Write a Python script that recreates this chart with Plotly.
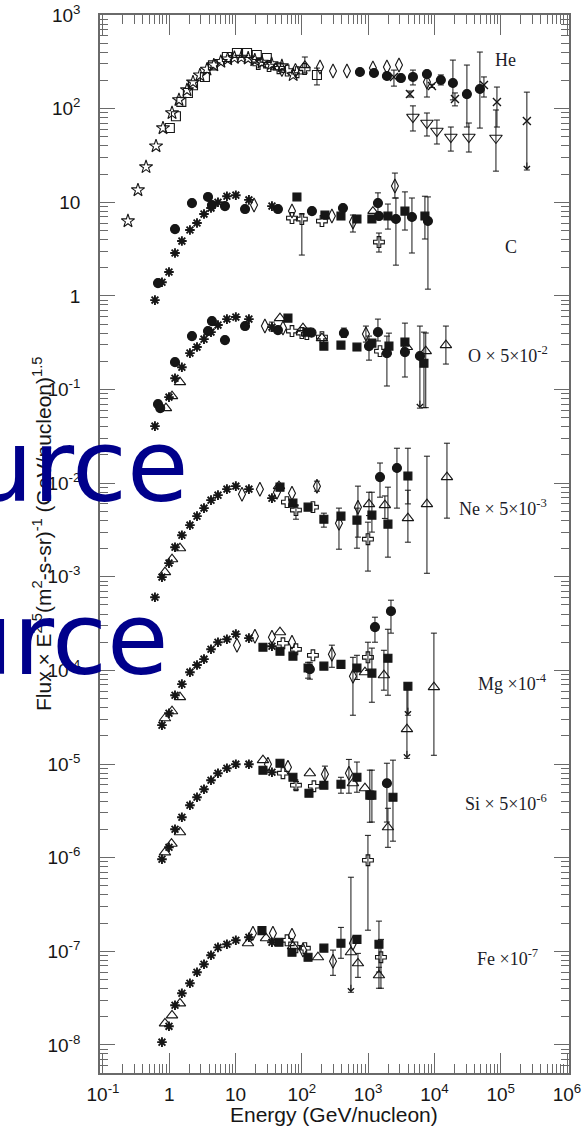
import math
import plotly.graph_objects as go

# ---------------- Helium ----------------
HE_STAR_E = [0.238, 0.337, 0.446, 0.631, 0.804, 1.10, 1.40, 1.85, 2.28, 2.9, 3.7, 4.7, 6.0, 7.6, 9.6, 12.2, 15.5, 19.5, 25, 35, 50, 74]
HE_STAR_F = [6.3, 13.5, 23.8, 39.8, 62, 90, 124, 158, 192, 228, 262, 292, 318, 338, 350, 352, 345, 330, 312, 300, 285, 229]
HE_SQ_E = [1.02, 1.26, 1.52, 1.91, 2.28, 3.45, 4.56, 7.4, 10.5, 14.9, 20.9, 29.6, 169]
HE_SQ_F = [62, 83, 118, 147, 178, 218, 290, 356, 393, 393, 374, 347, 229]
HE_SQ_ERR = {12: (271, 179)}
HE_CROSS_E = [22, 32, 45, 60, 85, 110]
HE_CROSS_F = [300, 285, 270, 255, 245, 265]
HE_TRI_E = [40, 111]
HE_TRI_F = [275, 290]
HE_TRI_ERR = {1: (356, 240)}
HE_DIAM_E = [50, 80, 188, 295, 479, 1180, 1920, 2920, 7710]
HE_DIAM_F = [262, 255, 278, 252, 252, 271, 278, 292, 192]
HE_DIAM_ERR = {8: (240, 133)}
HE_CIRC_E = [752, 1225, 1920, 3125, 4740, 7710, 12500, 19000, 30900, 48500]
HE_CIRC_F = [246, 240, 223, 212, 218, 234, 202, 188, 143, 162]
HE_CIRC_ERR = {4: (258, 179), 6: (229, 179), 7: (330, 124), 8: (292, 63.6), 9: (402, 62)}
HE_X_E = [2450, 4270, 9170, 20400, 55800, 87700, 248000]
HE_X_F = [218, 143, 174, 127, 179, 118, 73.8]
HE_X_ERR = {0: (258, 174), 1: (154, 133), 2: (182, 168), 3: (147, 107), 4: (218, 133), 5: (170, 63.6), 6: (150, 22.1)}
HE_X_LIMITS = [6]
HE_DTRI_E = [4740, 7710, 10900, 17700, 33100, 84700]
HE_DTRI_F = [81.3, 70.2, 57.7, 49.8, 49.8, 48.6]
HE_DTRI_ERR = {0: (107, 57.7), 1: (89.8, 51.0), 2: (75.5, 41.9), 3: (63.6, 35.2), 4: (70.2, 34.4), 5: (96.7, 21.5)}

# ---------------- Carbon ----------------
C_AST_E = [0.608, 0.776, 0.99, 1.22, 1.55, 2.05, 2.62, 3.34, 4.26, 5.43, 7.41, 10.1, 15.9, 35.4]
C_AST_F = [0.902, 1.40, 1.80, 2.87, 3.85, 5.05, 6.00, 7.48, 8.67, 10.0, 11.6, 11.9, 10.6, 9.10]
C_CIRC_E = [0.676, 1.22, 2.20, 3.84, 4.40, 6.92, 13.9, 43.6, 142, 417, 1406, 1456, 2625, 4580, 7980]
C_CIRC_F = [1.37, 5.17, 9.8, 11.4, 9.33, 9.10, 8.46, 8.46, 8.05, 8.67, 9.8, 7.12, 6.62, 6.95, 6.30]
C_CIRC_ERR = {10: (12.6, 7.3), 12: (11.1, 2.13), 13: (11.1, 2.87), 14: (11.4, 1.18)}
C_DIAM_E = [19.0, 71, 284, 590, 2535]
C_DIAM_F = [9.33, 8.05, 7.12, 6.14, 14.9]
C_DIAM_ERR = {3: (7.30, 4.81), 4: (20.5, 11.1)}
C_SQ_E = [84.3, 223, 389, 678, 1140, 1990, 3590, 7190]
C_SQ_F = [11.4, 7.30, 7.12, 6.62, 6.62, 7.12, 8.05, 7.12]
C_SQ_ERR = {5: (9.57, 5.17), 6: (12.9, 5.05), 7: (11.6, 4.05)}
C_CROSS_E = [71, 100, 201, 1456]
C_CROSS_F = [6.78, 6.62, 6.30, 3.76]
C_CROSS_ERR = {1: (7.5, 2.73), 3: (4.69, 2.94)}
C_TRI_E = [1180]
C_TRI_F = [8.05]

# ---------------- Oxygen (x 5e-2) ----------------
O_AST_E = [0.608, 0.99, 1.22, 1.55, 2.05, 2.62, 3.34, 4.26, 5.43, 7.41, 10.1, 15.9, 35.4]
O_AST_F = [0.0406, 0.0829, 0.132, 0.173, 0.245, 0.284, 0.345, 0.410, 0.488, 0.565, 0.594, 0.565, 0.464]
O_AST_ERR = {12: (0.525, 0.421)}
O_CIRC_E = [0.676, 0.73, 1.22, 2.20, 3.84, 4.40, 6.92, 13.9, 43.6, 140, 431, 1030, 1406, 1920, 3590, 6040]
O_CIRC_F = [0.0698, 0.0633, 0.196, 0.372, 0.421, 0.538, 0.337, 0.476, 0.431, 0.405, 0.401, 0.291, 0.410, 0.245, 0.251, 0.228]
O_CIRC_ERR = {10: (0.453, 0.36), 11: (0.372, 0.206), 12: (0.565, 0.33), 13: (0.372, 0.109), 15: (0.476, 0.0633)}
O_CIRC_LIMITS = [15]
O_TRI_E = [0.891, 1.10, 1.45, 46.8, 104, 201, 3850, 7400, 14900]
O_TRI_F = [0.0633, 0.0849, 0.120, 0.579, 0.453, 0.354, 0.284, 0.257, 0.298]
O_TRI_ERR = {7: (0.401, 0.064), 8: (0.476, 0.187)}
O_DIAM_E = [27.7, 51.9, 926]
O_DIAM_F = [0.476, 0.453, 0.391]
O_DIAM_ERR = {2: (0.476, 0.321)}
O_SQ_E = [61.7, 119, 215, 389, 678, 1140, 2060, 3590, 6950]
O_SQ_F = [0.579, 0.410, 0.291, 0.298, 0.284, 0.313, 0.291, 0.321, 0.191]
O_SQ_ERR = {6: (0.40, 0.24), 7: (0.512, 0.136), 8: (0.410, 0.064)}
O_CROSS_E = [71, 100, 119, 201, 1510]
O_CROSS_F = [0.421, 0.401, 0.391, 0.363, 0.257]

# ---------------- Neon (x 5e-3) ----------------
NE_AST_E = [0.608, 0.776, 0.99, 1.22, 1.55, 2.05, 2.62, 3.34, 4.26, 5.43, 7.41, 10.1, 15.9, 35.4]
NE_AST_F = [0.000605, 0.000991, 0.00140, 0.00207, 0.00278, 0.00356, 0.00444, 0.00541, 0.00658, 0.00744, 0.00863, 0.00929, 0.00863, 0.00691]
NE_TRI_E = [0.861, 1.10, 1.45, 45.2, 1030, 1790, 3980, 7710, 15450]
NE_TRI_F = [0.00112, 0.00154, 0.00202, 0.00929, 0.00597, 0.00582, 0.00423, 0.00597, 0.0116]
NE_TRI_ERR = {4: (0.0080, 0.0045), 5: (0.0073, 0.0042), 6: (0.0084, 0.00234), 7: (0.0194, 0.00109), 8: (0.0267, 0.00423)}
NE_DIAM_E = [12.5, 23.3, 42.1, 71, 169, 363, 702]
NE_DIAM_F = [0.00763, 0.00863, 0.00801, 0.00782, 0.00929, 0.00374, 0.00554]
NE_DIAM_ERR = {4: (0.0105, 0.0082), 5: (0.00541, 0.00197), 6: (0.00929, 0.00265)}
NE_SQ_E = [46.8, 73.4, 124, 215, 389, 678, 1140, 1990, 3980]
NE_SQ_F = [0.00906, 0.00611, 0.00554, 0.00412, 0.00444, 0.00403, 0.00455, 0.00365, 0.0119]
NE_SQ_ERR = {3: (0.00478, 0.00339), 5: (0.00541, 0.00202), 6: (0.0080, 0.0030), 7: (0.00906, 0.00162), 8: (0.0236, 0.0060)}
NE_CIRC_E = [1510, 2720]
NE_CIRC_F = [0.0116, 0.0145]
NE_CIRC_ERR = {0: (0.0164, 0.00708), 1: (0.0236, 0.00541)}
NE_CROSS_E = [59.6, 81.5, 147, 993]
NE_CROSS_F = [0.00627, 0.00515, 0.00554, 0.00252]
NE_CROSS_ERR = {1: (0.00582, 0.00412), 3: (0.00383, 0.00115)}

# ---------------- Magnesium (x 1e-4) ----------------
MG_AST_E = [0.776, 0.99, 1.22, 1.55, 2.05, 2.62, 3.34, 4.26, 5.43, 7.41, 10.1, 15.9, 35.4]
MG_AST_F = [2.60e-5, 3.49e-5, 5.43e-5, 7.13e-5, 9.57e-5, 1.14e-4, 1.32e-4, 1.68e-4, 2.00e-4, 2.15e-4, 2.44e-4, 2.21e-4, 1.81e-4]
MG_TRI_E = [0.861, 1.10, 1.45, 46.8, 895, 1730, 3850, 9820]
MG_TRI_F = [3.08e-5, 3.66e-5, 5.18e-5, 2.56e-4, 9.57e-5, 8.89e-5, 2.36e-5, 6.62e-5]
MG_TRI_ERR = {5: (1.64e-4, 6.15e-5), 6: (6.62e-5, 1.15e-5), 7: (2.50e-4, 1.24e-5)}
MG_TRI_LIMITS = [6]
MG_DIAM_E = [10.5, 19.6, 35.4, 71, 284, 590]
MG_DIAM_F = [1.86e-4, 2.32e-4, 2.26e-4, 2.00e-4, 1.49e-4, 8.68e-5]
MG_DIAM_ERR = {4: (1.86e-4, 1.08e-4), 5: (1.38e-4, 3.32e-5)}
MG_SQ_E = [25.9, 46.8, 73.4, 124, 215, 389, 678, 1140, 1990, 3980]
MG_SQ_F = [1.77e-4, 1.60e-4, 1.42e-4, 1.06e-4, 1.11e-4, 1.16e-4, 1.06e-4, 9.34e-5, 1.35e-4, 6.78e-5]
MG_SQ_ERR = {3: (1.22e-4, 8.26e-5), 6: (1.45e-4, 8.0e-5), 7: (1.73e-4, 4.57e-5), 8: (2.75e-4, 5.43e-5), 9: (7.3e-5, 3.32e-5)}
MG_SQ_LIMITS = [9]
MG_CROSS_E = [51.9, 81.5, 147, 993]
MG_CROSS_F = [1.95e-4, 1.68e-4, 1.45e-4, 1.38e-4]
MG_CROSS_ERR = {3: (2.0e-4, 1.0e-4)}
MG_CIRC_E = [132, 1267, 2210]
MG_CIRC_F = [1.03e-4, 2.90e-4, 4.29e-4]
MG_CIRC_ERR = {0: (1.22e-4, 8.06e-5), 1: (3.70e-4, 2.00e-4), 2: (5.62e-4, 2.50e-4)}

# ---------------- Silicon (x 5e-6) ----------------
SI_AST_E = [0.776, 0.99, 1.22, 1.55, 2.05, 2.62, 3.34, 4.26, 5.43, 7.41, 10.1, 15.9, 35.4]
SI_AST_F = [9.62e-7, 1.29e-6, 2.01e-6, 2.70e-6, 3.63e-6, 4.42e-6, 5.38e-6, 6.71e-6, 7.98e-6, 9.02e-6, 9.96e-6, 9.96e-6, 8.17e-6]
SI_TRI_E = [0.861, 1.08, 1.45, 25.9, 132, 590, 895, 1990]
SI_TRI_F = [1.14e-6, 1.41e-6, 1.87e-6, 1.10e-5, 7.98e-6, 6.24e-6, 5.52e-6, 2.11e-6]
SI_TRI_ERR = {7: (3.37e-6, 1.29e-6)}
SI_DIAM_E = [30.8, 61.7, 223, 513]
SI_DIAM_F = [9.96e-6, 9.25e-6, 7.78e-6, 7.98e-6]
SI_DIAM_ERR = {2: (9.5e-6, 6.5e-6), 3: (1.12e-5, 4.88e-6)}
SI_SQ_E = [25.9, 46.8, 73.4, 128, 215, 389, 678, 1060, 1140, 2370]
SI_SQ_F = [8.59e-6, 1.02e-5, 7.22e-6, 4.88e-6, 5.94e-6, 6.09e-6, 7.22e-6, 4.65e-6, 4.65e-6, 4.42e-6]
SI_SQ_ERR = {5: (7.22e-6, 4.88e-6), 6: (1.05e-5, 5.0e-6), 7: (8.6e-6, 2.39e-6), 8: (8.6e-6, 2.4e-6), 9: (1.1e-5, 1.5e-6)}
SI_CROSS_E = [51.9, 81.5, 152, 993]
SI_CROSS_F = [7.98e-6, 5.94e-6, 5.79e-6, 9.38e-7]
SI_CROSS_ERR = {1: (6.5e-6, 5.3e-6), 3: (1.73e-6, 1.68e-7)}
SI_CIRC_E = [1920]
SI_CIRC_F = [6.24e-6]
SI_CIRC_ERR = {0: (1.02e-5, 2.4e-6)}

# ---------------- Iron (x 1e-7) ----------------
FE_AST_E = [0.776, 0.99, 1.22, 1.55, 2.05, 2.62, 3.34, 4.26, 5.43, 7.41, 10.1, 15.9, 35.4]
FE_AST_F = [1.07e-8, 1.58e-8, 2.65e-8, 3.56e-8, 4.55e-8, 5.97e-8, 7.26e-8, 9.06e-8, 1.10e-7, 1.19e-7, 1.31e-7, 1.41e-7, 1.25e-7]
FE_TRI_E = [0.861, 1.10, 1.45, 15.4, 28.8, 73.4, 175, 550, 702, 1456]
FE_TRI_F = [1.70e-8, 2.07e-8, 2.78e-8, 1.22e-7, 1.38e-7, 1.13e-7, 8.63e-8, 9.76e-8, 7.44e-8, 5.54e-8]
FE_TRI_ERR = {7: (6.18e-7, 3.65e-8), 8: (9.5e-8, 5.27e-8), 9: (6.75e-8, 4.03e-8)}
FE_TRI_LIMITS = [7]
FE_DIAM_E = [18.3, 36.6, 71, 104, 295, 590]
FE_DIAM_F = [1.56e-7, 1.56e-7, 1.48e-7, 1.03e-7, 7.82e-8, 1.22e-7]
FE_DIAM_ERR = {4: (1.03e-7, 5.54e-8)}
FE_SQ_E = [25.0, 45.2, 71, 124, 215, 389, 678, 1456]
FE_SQ_F = [1.66e-7, 1.25e-7, 9.76e-8, 8.63e-8, 1.08e-7, 1.22e-7, 1.34e-7, 1.19e-7]
FE_SQ_ERR = {5: (1.80e-7, 8.42e-8), 7: (2.1e-7, 6.0e-8)}
FE_CROSS_E = [59.6, 81.5, 111, 1560]
FE_CROSS_F = [1.31e-7, 1.10e-7, 1.08e-7, 8.63e-8]
FE_CROSS_ERR = {3: (1.34e-7, 4.03e-8)}

# ---------------- axis ticks and labels ----------------
X_TICKS = [1e-1, 1, 10, 1e2, 1e3, 1e4, 1e5, 1e6]
X_TICKTEXT = ["10<sup>-1</sup>", "1", "10", "10<sup>2</sup>", "10<sup>3</sup>",
              "10<sup>4</sup>", "10<sup>5</sup>", "10<sup>6</sup>"]
Y_TICKS = [1e3, 1e2, 10, 1, 1e-1, 1e-2, 1e-3, 1e-4, 1e-5, 1e-6, 1e-7, 1e-8]
Y_TICKTEXT = ["10<sup>3</sup>", "10<sup>2</sup>", "10", "1", "10<sup>-1</sup>", "10<sup>-2</sup>",
              "10<sup>-3</sup>", "10<sup>-4</sup>", "10<sup>-5</sup>", "10<sup>-6</sup>",
              "10<sup>-7</sup>", "10<sup>-8</sup>"]
SPECIES = ["He", "C", "O \u00d7 5\u00d710<sup>-2</sup>", "Ne \u00d7 5\u00d710<sup>-3</sup>",
           "Mg \u00d710<sup>-4</sup>", "Si \u00d7 5\u00d710<sup>-6</sup>", "Fe \u00d710<sup>-7</sup>"]

INK = "#161616"
AXIS = "#6a6a6a"
W, H = 584, 1128
L, R, T, B = 100, 15, 15, 55
PW, PH = W - L - R, H - T - B

fig = go.Figure()


def add(E, F, symbol, size=8, err=None, limits=(), lw=1.1):
    if err:
        idx = sorted(err)
        fig.add_trace(go.Scatter(
            x=[E[i] for i in idx], y=[F[i] for i in idx], mode="markers",
            marker=dict(size=2, opacity=0),
            error_y=dict(type="data", symmetric=False,
                         array=[err[i][0] - F[i] for i in idx],
                         arrayminus=[F[i] - err[i][1] for i in idx],
                         color=INK, thickness=1, width=3),
            hoverinfo="skip", showlegend=False))
    fig.add_trace(go.Scatter(
        x=E, y=F, mode="markers", showlegend=False,
        marker=dict(symbol=symbol, size=size, color=INK, line=dict(color=INK, width=lw))))
    for i in limits:
        fig.add_annotation(x=math.log10(E[i]), y=math.log10(err[i][1]), xref="x", yref="y",
                           ax=0, ay=-9, text="", showarrow=True, arrowhead=4,
                           arrowsize=1.2, arrowwidth=1, arrowcolor=INK)


AST = dict(symbol="asterisk-open", size=8, lw=1.9)

# He
add(HE_STAR_E, HE_STAR_F, "star-open", 10)
add(HE_SQ_E, HE_SQ_F, "square-open", 9, HE_SQ_ERR)
add(HE_CROSS_E, HE_CROSS_F, "cross-open", 9)
add(HE_TRI_E, HE_TRI_F, "triangle-up-open", 9, HE_TRI_ERR)
add(HE_DIAM_E, HE_DIAM_F, "diamond-tall-open", 10, HE_DIAM_ERR)
add(HE_CIRC_E, HE_CIRC_F, "circle", 9, HE_CIRC_ERR)
add(HE_X_E, HE_X_F, "x-thin-open", 8, HE_X_ERR, HE_X_LIMITS, lw=1.4)
add(HE_DTRI_E, HE_DTRI_F, "triangle-down-open", 11, HE_DTRI_ERR)

# C
add(C_AST_E, C_AST_F, AST["symbol"], AST["size"], lw=AST["lw"])
add(C_CIRC_E, C_CIRC_F, "circle", 9, C_CIRC_ERR)
add(C_DIAM_E, C_DIAM_F, "diamond-tall-open", 10, C_DIAM_ERR)
add(C_SQ_E, C_SQ_F, "square", 8, C_SQ_ERR)
add(C_CROSS_E, C_CROSS_F, "cross-open", 9, C_CROSS_ERR)
add(C_TRI_E, C_TRI_F, "triangle-up-open", 9)

# O
add(O_AST_E, O_AST_F, AST["symbol"], AST["size"], O_AST_ERR, lw=AST["lw"])
add(O_CIRC_E, O_CIRC_F, "circle", 9, O_CIRC_ERR, O_CIRC_LIMITS)
add(O_TRI_E, O_TRI_F, "triangle-up-open", 10, O_TRI_ERR)
add(O_DIAM_E, O_DIAM_F, "diamond-tall-open", 10, O_DIAM_ERR)
add(O_SQ_E, O_SQ_F, "square", 8, O_SQ_ERR)
add(O_CROSS_E, O_CROSS_F, "cross-open", 9)

# Ne
add(NE_AST_E, NE_AST_F, AST["symbol"], AST["size"], lw=AST["lw"])
add(NE_TRI_E, NE_TRI_F, "triangle-up-open", 10, NE_TRI_ERR)
add(NE_DIAM_E, NE_DIAM_F, "diamond-tall-open", 10, NE_DIAM_ERR)
add(NE_SQ_E, NE_SQ_F, "square", 8, NE_SQ_ERR)
add(NE_CIRC_E, NE_CIRC_F, "circle", 9, NE_CIRC_ERR)
add(NE_CROSS_E, NE_CROSS_F, "cross-open", 9, NE_CROSS_ERR)

# Mg
add(MG_AST_E, MG_AST_F, AST["symbol"], AST["size"], lw=AST["lw"])
add(MG_TRI_E, MG_TRI_F, "triangle-up-open", 10, MG_TRI_ERR, MG_TRI_LIMITS)
add(MG_DIAM_E, MG_DIAM_F, "diamond-tall-open", 10, MG_DIAM_ERR)
add(MG_SQ_E, MG_SQ_F, "square", 8, MG_SQ_ERR, MG_SQ_LIMITS)
add(MG_CROSS_E, MG_CROSS_F, "cross-open", 9, MG_CROSS_ERR)
add(MG_CIRC_E, MG_CIRC_F, "circle", 9, MG_CIRC_ERR)

# Si
add(SI_AST_E, SI_AST_F, AST["symbol"], AST["size"], lw=AST["lw"])
add(SI_TRI_E, SI_TRI_F, "triangle-up-open", 10, SI_TRI_ERR)
add(SI_DIAM_E, SI_DIAM_F, "diamond-tall-open", 10, SI_DIAM_ERR)
add(SI_SQ_E, SI_SQ_F, "square", 8, SI_SQ_ERR)
add(SI_CROSS_E, SI_CROSS_F, "cross-open", 9, SI_CROSS_ERR)
add(SI_CIRC_E, SI_CIRC_F, "circle", 9, SI_CIRC_ERR)

# Fe
add(FE_AST_E, FE_AST_F, AST["symbol"], AST["size"], lw=AST["lw"])
add(FE_TRI_E, FE_TRI_F, "triangle-up-open", 10, FE_TRI_ERR, FE_TRI_LIMITS)
add(FE_DIAM_E, FE_DIAM_F, "diamond-tall-open", 10, FE_DIAM_ERR)
add(FE_SQ_E, FE_SQ_F, "square", 8, FE_SQ_ERR)
add(FE_CROSS_E, FE_CROSS_F, "cross-open", 9, FE_CROSS_ERR)


def px(x):
    return (x - L) / PW


def py(y):
    return (H - B - y) / PH


# species labels (serif, placed beside each band)
label_pos = [(493, 60), (503, 247), (466, 355), (457, 507), (476, 682), (463, 802), (475, 957)]
for text, (lx, ly) in zip(SPECIES, label_pos):
    fig.add_annotation(x=px(lx), y=py(ly), xref="paper", yref="paper", text=text,
                       showarrow=False, xanchor="left", yanchor="middle",
                       font=dict(family="Liberation Serif, Times New Roman, serif", size=18, color="#1c1c28"))

# axis titles
fig.add_annotation(x=px(42), y=py(534), xref="paper", yref="paper", textangle=-90,
                   xanchor="center", yanchor="middle",
                   text="Flux \u00d7 E<sup>2.5</sup>(m<sup>2</sup>-s-sr)<sup>-1</sup> (GeV/nucleon)<sup>1.5</sup>",
                   showarrow=False, font=dict(family="Liberation Sans, Arial", size=21, color=INK))
fig.add_annotation(x=px(334), y=py(1114), xref="paper", yref="paper", text="Energy (GeV/nucleon)",
                   xanchor="center", yanchor="middle",
                   showarrow=False, font=dict(family="Liberation Sans, Arial", size=21, color=INK))

# overlaid stamp text
for rx, cy in [(190, 467), (170, 639)]:
    fig.add_annotation(x=px(rx), y=py(cy), xref="paper", yref="paper", text="Source",
                       showarrow=False, xanchor="right", yanchor="middle",
                       font=dict(family="DejaVu Sans", size=100, color="#00008b"))

x_minor = [m * 10 ** k for k in range(-2, 7) for m in range(2, 10)]
y_minor = [m * 10 ** k for k in range(-9, 3) for m in range(2, 10)]

fig.update_xaxes(type="log", range=[-1.045, 6.03], tickmode="array", tickvals=X_TICKS, ticktext=X_TICKTEXT,
                 ticks="inside", ticklen=20, tickwidth=1, tickcolor=AXIS, mirror="allticks",
                 showline=True, linecolor=AXIS, linewidth=1.5, showgrid=False, zeroline=False,
                 ticklabelstandoff=3, automargin=False,
                 tickfont=dict(family="Liberation Sans, Arial", size=19, color=INK),
                 minor=dict(tickmode="array", tickvals=x_minor, ticks="inside", ticklen=9,
                            tickwidth=1, tickcolor=AXIS, showgrid=False))
fig.update_yaxes(type="log", range=[-8.3, 3], tickmode="array", tickvals=Y_TICKS, ticktext=Y_TICKTEXT,
                 ticks="inside", ticklen=15, tickwidth=1, tickcolor=AXIS, mirror="allticks",
                 showline=True, linecolor=AXIS, linewidth=1.5, showgrid=False, zeroline=False,
                 ticklabelstandoff=14, automargin=False,
                 tickfont=dict(family="Liberation Sans, Arial", size=19, color=INK),
                 minor=dict(tickmode="array", tickvals=y_minor, ticks="inside", ticklen=8,
                            tickwidth=1, tickcolor=AXIS, showgrid=False))

fig.update_layout(width=W, height=H, margin=dict(l=L, r=R, t=T, b=B),
                  paper_bgcolor="white", plot_bgcolor="white", showlegend=False)

fig.write_html("out.html")
